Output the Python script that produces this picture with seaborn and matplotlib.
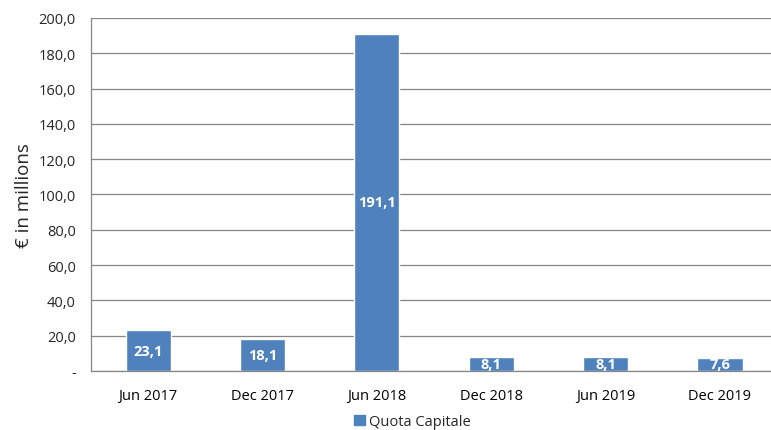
import matplotlib
matplotlib.use("Agg")
import matplotlib.pyplot as plt
import seaborn as sns
import pandas as pd
import numpy as np
from matplotlib.ticker import FuncFormatter, FixedLocator, MultipleLocator

categories = ["Jun 2017", "Dec 2017", "Jun 2018", "Dec 2018", "Jun 2019", "Dec 2019"]
values = [23.1, 18.1, 191.1, 8.1, 8.1, 7.6]
series_name = "Quota Capitale"

df = pd.DataFrame({"period": categories, "value": values, "series": series_name})

sns.set_theme(style="white")
plt.rcParams["font.family"] = ["Open Sans", "DejaVu Sans"]

fig = plt.figure(figsize=(7.71, 4.31), dpi=100)
ax = fig.add_axes([0.118, 0.137, 0.890, 0.819])

color = "#4F81BD"
sns.barplot(data=df, x="period", y="value", hue="series", palette=[color],
            width=0.394, ax=ax, legend=False, saturation=1)

ax.set_ylim(0, 200)
ax.set_xlim(-0.5, len(categories) - 0.5)
ax.yaxis.set_major_locator(MultipleLocator(20))
ax.yaxis.set_major_formatter(FuncFormatter(lambda v, p: "-" if abs(v) < 1e-9 else f"{v:.1f}".replace(".", ",")))
ax.grid(axis="y", color="#868686", linewidth=0.9)
ax.set_axisbelow(True)

for s in ["top", "right"]:
    ax.spines[s].set_visible(False)
for s in ["left", "bottom"]:
    ax.spines[s].set_color("#868686")
    ax.spines[s].set_linewidth(0.9)

ax.xaxis.set_minor_locator(FixedLocator(np.arange(-0.5, len(categories), 1.0)))
ax.tick_params(axis="x", which="major", length=0, labelsize=10.5, pad=12, colors="#000000")
ax.tick_params(axis="x", which="minor", length=6, width=0.9, color="#868686", direction="out")
ax.tick_params(axis="y", which="major", length=5, width=0.9, color="#868686", direction="out",
               labelsize=10.5, pad=6)

ax.set_xlabel("")
ax.set_ylabel("€ in millions", fontsize=13.5, labelpad=4)

for patch, v in zip(ax.patches, values):
    x = patch.get_x() + patch.get_width() / 2
    ax.text(x, v / 2, f"{v:.1f}".replace(".", ","), ha="center", va="center",
            color="white", fontsize=10.5, fontweight="bold")

handle = plt.Rectangle((0, 0), 1, 1, color=color)
fig.legend([handle], [series_name], loc="center", bbox_to_anchor=(0.535, 0.02),
           frameon=False, fontsize=10.5, handlelength=0.7, handleheight=0.7,
           handletextpad=0.3)

fig.savefig("out.png", dpi=100)
